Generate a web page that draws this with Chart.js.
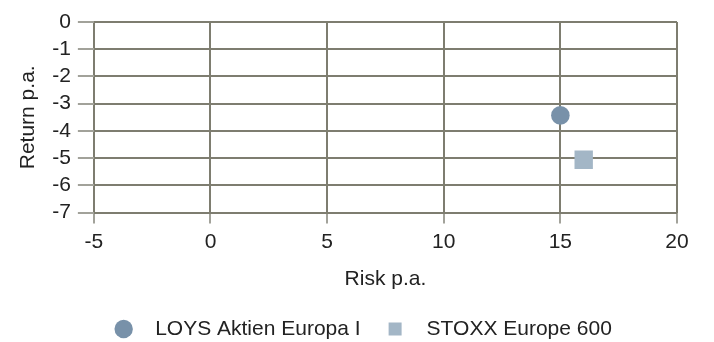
<!DOCTYPE html>
<html lang="de">
<head>
    <meta charset="UTF-8">
    <title>Risk / Return</title>
    <script src="https://cdn.jsdelivr.net/npm/chart.js"></script>
    <style>
        html, body { margin: 0; padding: 0; background: #fff; }
        #wrap { width: 714px; height: 342px; }
    </style>
</head>
<body>
    <div id="wrap">
        <canvas id="riskChart" width="714" height="342"></canvas>
    </div>
    <script>
        // Daten aus dem Chart
        const seriesNames = ['LOYS Aktien Europa I', 'STOXX Europe 600'];
        const riskValues = [15, 16];
        const returnValues = [-3.43, -5.06];
        const seriesColors = ['#7891a9', '#a3b6c6'];
        const seriesStyles = ['circle', 'rect'];
        const seriesRadius = [9.3, 13];

        const xTicks = [-5, 0, 5, 10, 15, 20];
        const yTicks = [0, -1, -2, -3, -4, -5, -6, -7];

        const gridColor = '#7e7d70';
        const fontFamily = '"Liberation Sans", Arial, sans-serif';
        const fontSize = 21;

        const datasets = seriesNames.map(function(name, i) {
            return {
                label: name,
                data: [{ x: riskValues[i], y: returnValues[i] }],
                backgroundColor: seriesColors[i],
                borderColor: seriesColors[i],
                borderWidth: 0,
                pointStyle: seriesStyles[i],
                pointRadius: seriesRadius[i],
                pointHoverRadius: seriesRadius[i]
            };
        });

        // Legende etwas nach rechts schieben (wie im Original)
        const legendShift = {
            id: 'legendShift',
            afterLayout(chart) {
                const lg = chart.legend;
                if (!lg) return;
                lg.left += 17;
                lg.right += 17;
                if (lg.adjustHitBoxes) lg.adjustHitBoxes();
            }
        };

        new Chart(document.getElementById('riskChart').getContext('2d'), {
            type: 'scatter',
            data: { datasets: datasets },
            plugins: [legendShift],
            options: {
                responsive: false,
                animation: false,
                layout: { padding: { left: 14, right: 37, top: 22, bottom: -7.5 } },
                scales: {
                    x: {
                        type: 'linear',
                        min: xTicks[0],
                        max: xTicks[xTicks.length - 1],
                        afterBuildTicks: function(axis) {
                            axis.ticks = xTicks.map(v => ({ value: v }));
                        },
                        grid: {
                            color: gridColor,
                            lineWidth: 2,
                            tickLength: 11,
                            tickColor: '#a2a29a'
                        },
                        border: { display: false },
                        ticks: {
                            color: '#222',
                            font: { family: fontFamily, size: fontSize },
                            padding: 6,
                            autoSkip: false,
                            maxRotation: 0
                        },
                        title: {
                            display: true,
                            text: 'Risk p.a.',
                            color: '#222',
                            font: { family: fontFamily, size: fontSize },
                            padding: { top: 6, bottom: 2.5 }
                        }
                    },
                    y: {
                        type: 'linear',
                        min: yTicks[yTicks.length - 1],
                        max: yTicks[0],
                        afterBuildTicks: function(axis) {
                            axis.ticks = yTicks.slice().reverse().map(v => ({ value: v }));
                        },
                        grid: {
                            color: gridColor,
                            lineWidth: 2,
                            tickLength: 16,
                            tickColor: '#a2a29a'
                        },
                        border: { display: false },
                        ticks: {
                            color: '#222',
                            font: { family: fontFamily, size: fontSize },
                            padding: 7,
                            autoSkip: false
                        },
                        title: {
                            display: true,
                            text: 'Return p.a.',
                            color: '#222',
                            font: { family: fontFamily, size: fontSize },
                            padding: { top: 2, bottom: 4 }
                        }
                    }
                },
                plugins: {
                    legend: {
                        position: 'bottom',
                        labels: {
                            usePointStyle: true,
                            boxHeight: 13,
                            color: '#222',
                            font: { family: fontFamily, size: fontSize },
                            padding: 24,
                            generateLabels: function(chart) {
                                const items = Chart.defaults.plugins.legend.labels.generateLabels(chart);
                                items.forEach(it => { it.text = '\u2002' + it.text; });
                                return items;
                            }
                        }
                    },
                    tooltip: { enabled: false }
                }
            }
        });
    </script>
</body>
</html>
